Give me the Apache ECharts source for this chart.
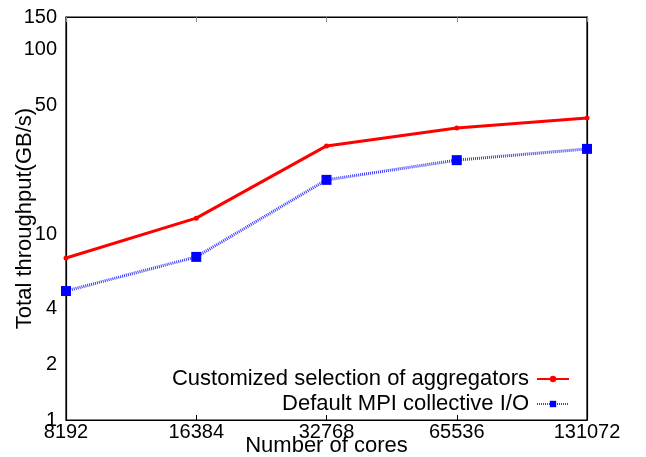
<!DOCTYPE html>
<html>
<head>
<meta charset="utf-8">
<script src="https://cdn.jsdelivr.net/npm/echarts@6/dist/echarts.min.js"></script>
<style>
  html, body { margin: 0; padding: 0; background: #fff; }
  #main { width: 646px; height: 457px; }
</style>
</head>
<body>
<div id="main"></div>
<script>
const cores = ['8192', '16384', '32768', '65536', '131072'];
const customized = [7.5, 12.3, 30.2, 37.7, 42.7];
const defaultMpi = [4.97, 7.6, 19.8, 25.3, 29.1];
const yTicks = [1, 2, 4, 10, 50, 100, 150];

const font = 'Liberation Sans, Arial, Helvetica, sans-serif';

const chart = echarts.init(document.getElementById('main'));
chart.setOption({
    animation: false,
    textStyle: { fontFamily: font, color: '#000' },
    grid: {
        left: 66, right: 59, top: 17, bottom: 37,
        outerBoundsMode: 'none',
        containLabel: false,
        show: true, borderColor: '#000', borderWidth: 1.2
    },
    legend: {
        orient: 'vertical',
        right: 71,
        top: 363,
        align: 'right',
        itemGap: 3,
        itemWidth: 32,
        itemHeight: 8,
        textStyle: { fontSize: 22, fontFamily: font, color: '#000', padding: [0, 3, 0, 0] },
        data: ['Customized selection of aggregators', 'Default MPI collective I/O']
    },
    xAxis: [{
        type: 'category',
        data: cores,
        boundaryGap: false,
        name: 'Number of cores',
        nameLocation: 'middle',
        nameGap: 15,
        nameMoveOverlap: false,
        nameTextStyle: { fontSize: 22, fontFamily: font, color: '#000', verticalAlign: 'top' },
        axisLine: { lineStyle: { color: '#000', width: 1.2 } },
        axisTick: { inside: true, length: 5, lineStyle: { color: '#000' } },
        axisLabel: { fontSize: 20, margin: 2, color: '#000', interval: 0, hideOverlap: false },
        splitLine: { show: false }
    }, {
        type: 'category',
        data: cores,
        boundaryGap: false,
        position: 'top',
        axisLine: { lineStyle: { color: '#000', width: 1.2 } },
        axisTick: { inside: true, length: 5, lineStyle: { color: '#888' } },
        axisLabel: { show: false }
    }],
    yAxis: [{
        type: 'log',
        logBase: 10,
        min: 1,
        max: 150,
        name: 'Total throughput(GB/s)',
        nameLocation: 'middle',
        nameGap: 30,
        nameMoveOverlap: false,
        nameTextStyle: { fontSize: 22, fontFamily: font, color: '#000' },
        axisLine: { show: true, lineStyle: { color: '#000', width: 1.2 } },
        axisTick: { inside: true, length: 5, customValues: yTicks, lineStyle: { color: '#000' } },
        axisLabel: { fontSize: 20, margin: 9, color: '#000', customValues: yTicks, hideOverlap: false },
        splitLine: { show: false }
    }, {
        type: 'log',
        logBase: 10,
        min: 1,
        max: 150,
        position: 'right',
        axisLine: { show: true, lineStyle: { color: '#000', width: 1.2 } },
        axisTick: { inside: true, length: 5, customValues: yTicks, lineStyle: { color: '#888' } },
        axisLabel: { show: false },
        splitLine: { show: false }
    }],
    series: [{
        name: 'Customized selection of aggregators',
        type: 'line',
        data: customized,
        symbol: 'circle',
        symbolSize: 5,
        itemStyle: { color: '#ff0000' },
        lineStyle: { color: '#ff0000', width: 3 },
        z: 3
    }, {
        name: 'Default MPI collective I/O',
        type: 'line',
        data: defaultMpi,
        symbol: 'rect',
        symbolSize: 10,
        itemStyle: { color: '#0000ff' },
        lineStyle: { color: '#3a3aff', width: 3, type: [1, 1] },
        z: 2
    }]
});
</script>
</body>
</html>
